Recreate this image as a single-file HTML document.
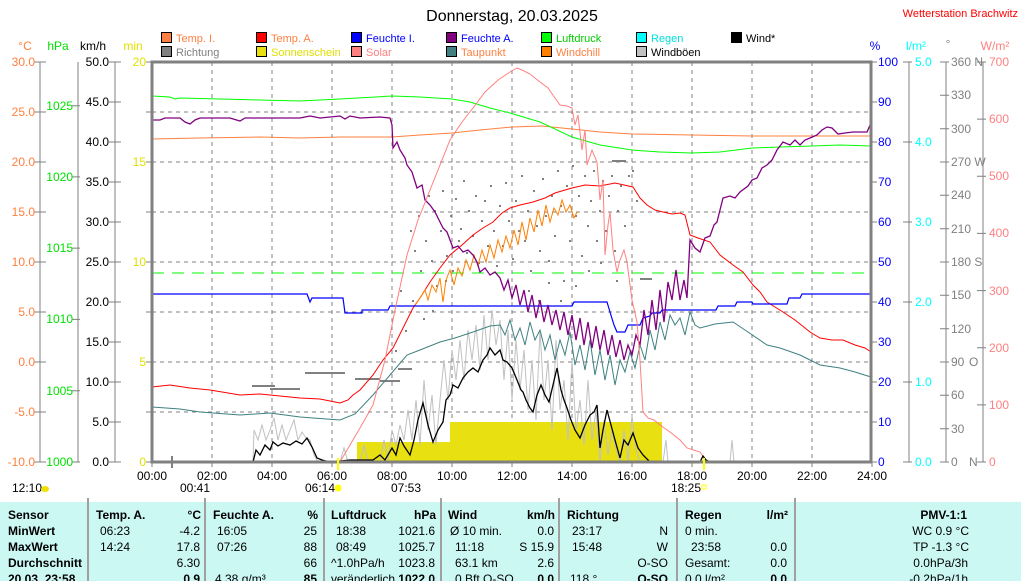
<!DOCTYPE html>
<html><head><meta charset="utf-8"><style>
html,body{margin:0;padding:0;background:#fff;}
svg{display:block;font-family:"Liberation Sans",Arial,sans-serif;}
</style></head><body>
<svg width="1021" height="581" viewBox="0 0 1021 581" xmlns="http://www.w3.org/2000/svg">
<rect x="0" y="0" width="1021" height="581" fill="#fff"/>
<text x="512" y="21" font-size="16" text-anchor="middle" fill="#000">Donnerstag, 20.03.2025</text>
<text x="1018" y="17" font-size="11" text-anchor="end" fill="#ff0000">Wetterstation Brachwitz</text>
<g font-size="11">
<rect x="161.5" y="32.5" width="10" height="10" fill="#ff8040" stroke="#000"/><text x="176" y="42" fill="#ff8040">Temp. I.</text>
<rect x="256.5" y="32.5" width="10" height="10" fill="#ff0000" stroke="#000"/><text x="271" y="42" fill="#ff8040">Temp. A.</text>
<rect x="351.5" y="32.5" width="10" height="10" fill="#0000ff" stroke="#000"/><text x="366" y="42" fill="#0000ff">Feuchte I.</text>
<rect x="446.5" y="32.5" width="10" height="10" fill="#800080" stroke="#000"/><text x="461" y="42" fill="#0000ff">Feuchte A.</text>
<rect x="541.5" y="32.5" width="10" height="10" fill="#00ff00" stroke="#000"/><text x="556" y="42" fill="#00cc00">Luftdruck</text>
<rect x="636.5" y="32.5" width="10" height="10" fill="#00ffff" stroke="#000"/><text x="651" y="42" fill="#00e0e0">Regen</text>
<rect x="731.5" y="32.5" width="10" height="10" fill="#000" stroke="#000"/><text x="746" y="42" fill="#000">Wind*</text>
<rect x="161.5" y="46.5" width="10" height="10" fill="#808080" stroke="#000"/><text x="176" y="56" fill="#808080">Richtung</text>
<rect x="256.5" y="46.5" width="10" height="10" fill="#e8e010" stroke="#000"/><text x="271" y="56" fill="#e0e000">Sonnenschein</text>
<rect x="351.5" y="46.5" width="10" height="10" fill="#ff8080" stroke="#000"/><text x="366" y="56" fill="#ff8080">Solar</text>
<rect x="446.5" y="46.5" width="10" height="10" fill="#408080" stroke="#000"/><text x="461" y="56" fill="#ff8040">Taupunkt</text>
<rect x="541.5" y="46.5" width="10" height="10" fill="#ff8000" stroke="#000"/><text x="556" y="56" fill="#ff8040">Windchill</text>
<rect x="636.5" y="46.5" width="10" height="10" fill="#c0c0c0" stroke="#000"/><text x="651" y="56" fill="#000">Windböen</text>
</g>
<g font-size="12">
<text x="25" y="50" fill="#ff8040" text-anchor="middle">°C</text>
<text x="58" y="50" fill="#00e000" text-anchor="middle">hPa</text>
<text x="93" y="50" fill="#000" text-anchor="middle">km/h</text>
<text x="133" y="50" fill="#e0e000" text-anchor="middle">min</text>
<text x="875" y="50" fill="#0000ff" text-anchor="middle">%</text>
<text x="916" y="50" fill="#00ffff" text-anchor="middle">l/m²</text>
<text x="948" y="48" fill="#808080" text-anchor="middle">°</text>
<text x="995" y="50" fill="#ff8080" text-anchor="middle">W/m²</text>
</g>
<!-- axes -->
<g stroke="#808080" fill="none">
<path d="M40 62V462M34 62H46M34 112H46M34 162H46M34 212H46M34 262H46M34 312H46M34 362H46M34 412H46M34 462H46"/>
<path d="M78 62V462M72 105.7H80M72 176.9H80M72 248.1H80M72 319.4H80M72 390.7H80M72 462H80"/>
<path d="M115 62V462M109 62H121M109 102H121M109 142H121M109 182H121M109 222H121M109 262H121M109 302H121M109 342H121M109 382H121M109 422H121M109 462H121"/>
<path d="M146 62H152M146 112H152M146 162H152M146 212H152M146 262H152M146 312H152M146 362H152M146 412H152M146 462H152"/>
<path d="M871 62H877M871 102H877M871 142H877M871 182H877M871 222H877M871 262H877M871 302H877M871 342H877M871 382H877M871 422H877M871 462H877"/>
<path d="M909 62V462M903 62H912M903 142H912M903 222H912M903 302H912M903 382H912M903 462H912"/>
<path d="M946 62V462M940 62H949M940 95.3H949M940 128.7H949M940 162H949M940 195.3H949M940 228.7H949M940 262H949M940 295.3H949M940 328.7H949M940 362H949M940 395.3H949M940 428.7H949M940 462H949"/>
<path d="M983 62V462M977 62H986M977 119.1H986M977 176.3H986M977 233.4H986M977 290.6H986M977 347.7H986M977 404.9H986M977 462H986"/>
</g>
<g font-size="12" text-anchor="end" fill="#ff8040">
<text x="35" y="66">30.0</text><text x="35" y="116">25.0</text><text x="35" y="166">20.0</text><text x="35" y="216">15.0</text><text x="35" y="266">10.0</text><text x="35" y="316">5.0</text><text x="35" y="366">0.0</text><text x="35" y="416">-5.0</text><text x="35" y="466">-10.0</text>
</g>
<g font-size="12" text-anchor="end" fill="#00e000">
<text x="73" y="110">1025</text><text x="73" y="181">1020</text><text x="73" y="252">1015</text><text x="73" y="323">1010</text><text x="73" y="395">1005</text><text x="73" y="466">1000</text>
</g>
<g font-size="12" text-anchor="end" fill="#000">
<text x="109" y="66">50.0</text><text x="109" y="106">45.0</text><text x="109" y="146">40.0</text><text x="109" y="186">35.0</text><text x="109" y="226">30.0</text><text x="109" y="266">25.0</text><text x="109" y="306">20.0</text><text x="109" y="346">15.0</text><text x="109" y="386">10.0</text><text x="109" y="426">5.0</text><text x="109" y="466">0.0</text>
</g>
<g font-size="12" text-anchor="end" fill="#e0e000">
<text x="146" y="66">20</text><text x="146" y="166">15</text><text x="146" y="266">10</text><text x="146" y="366">5</text><text x="146" y="466">0</text>
</g>
<g font-size="12" fill="#0000ff">
<text x="878" y="66">100</text><text x="878" y="106">90</text><text x="878" y="146">80</text><text x="878" y="186">70</text><text x="878" y="226">60</text><text x="878" y="266">50</text><text x="878" y="306">40</text><text x="878" y="346">30</text><text x="878" y="386">20</text><text x="878" y="426">10</text><text x="878" y="466">0</text>
</g>
<g font-size="12" fill="#00ffff">
<text x="915" y="66">5.0</text><text x="915" y="146">4.0</text><text x="915" y="226">3.0</text><text x="915" y="306">2.0</text><text x="915" y="386">1.0</text><text x="915" y="466">0.0</text>
</g>
<g font-size="12" fill="#808080">
<text x="951" y="66">360 N</text><text x="951" y="99">330</text><text x="951" y="133">300</text><text x="951" y="166">270 W</text><text x="951" y="199">240</text><text x="951" y="233">210</text><text x="951" y="266">180 S</text><text x="951" y="299">150</text><text x="951" y="333">120</text><text x="951" y="366">90</text><text x="969" y="366">O</text><text x="951" y="399">60</text><text x="951" y="433">30</text><text x="951" y="466">0</text><text x="969" y="466">N</text>
</g>
<g font-size="12" fill="#ff8080">
<text x="989" y="66">700</text><text x="989" y="123">600</text><text x="989" y="180">500</text><text x="989" y="237">400</text><text x="989" y="295">300</text><text x="989" y="352">200</text><text x="989" y="409">100</text><text x="989" y="466">0</text>
</g>
<!-- grid -->
<g stroke="#808080" stroke-dasharray="4,4">
<path d="M152 112H871M152 162H871M152 212H871M152 262H871M152 312H871M152 362H871M152 412H871"/>
<path d="M212 62V462M272 62V462M332 62V462M392 62V462M452 62V462M512 62V462M572 62V462M632 62V462M692 62V462M752 62V462M812 62V462"/>
</g>
<!-- data -->
<polygon points="357,462 357,442 450,442 450,422 662,422 662,462" fill="#e8e010"/>
<line x1="152" y1="273" x2="871" y2="273" stroke="#00ff00" stroke-dasharray="12,8"/>
<g fill="#808080">
<rect x="252" y="385" width="23" height="2"/><rect x="270" y="388" width="30" height="2"/><rect x="305" y="372" width="40" height="2"/><rect x="355" y="378" width="25" height="2"/><rect x="380" y="380" width="20" height="2"/><rect x="398" y="368" width="14" height="2"/><rect x="612" y="160" width="14" height="2"/><rect x="640" y="278" width="12" height="2"/>
</g>
<path fill="#808080" d="M410 230h2v2h-2zM414 250h2v2h-2zM418 215h2v2h-2zM420 270h2v2h-2zM425 240h2v2h-2zM428 195h2v2h-2zM431 260h2v2h-2zM434 210h2v2h-2zM436 285h2v2h-2zM440 230h2v2h-2zM442 190h2v2h-2zM446 255h2v2h-2zM450 215h2v2h-2zM452 270h2v2h-2zM455 198h2v2h-2zM458 240h2v2h-2zM460 228h2v2h-2zM463 180h2v2h-2zM466 252h2v2h-2zM468 210h2v2h-2zM472 235h2v2h-2zM475 195h2v2h-2zM478 262h2v2h-2zM481 220h2v2h-2zM484 200h2v2h-2zM487 245h2v2h-2zM490 185h2v2h-2zM493 230h2v2h-2zM496 265h2v2h-2zM499 205h2v2h-2zM502 245h2v2h-2zM505 182h2v2h-2zM508 220h2v2h-2zM512 258h2v2h-2zM515 200h2v2h-2zM518 230h2v2h-2zM521 175h2v2h-2zM524 240h2v2h-2zM527 210h2v2h-2zM530 270h2v2h-2zM533 190h2v2h-2zM536 225h2v2h-2zM539 250h2v2h-2zM542 178h2v2h-2zM545 215h2v2h-2zM548 260h2v2h-2zM551 195h2v2h-2zM554 235h2v2h-2zM557 170h2v2h-2zM560 205h2v2h-2zM563 280h2v2h-2zM566 185h2v2h-2zM569 240h2v2h-2zM572 165h2v2h-2zM575 215h2v2h-2zM578 195h2v2h-2zM581 255h2v2h-2zM584 175h2v2h-2zM587 225h2v2h-2zM590 200h2v2h-2zM593 170h2v2h-2zM596 240h2v2h-2zM599 210h2v2h-2zM602 180h2v2h-2zM605 230h2v2h-2zM608 195h2v2h-2zM611 175h2v2h-2zM614 250h2v2h-2zM617 210h2v2h-2zM620 185h2v2h-2zM624 225h2v2h-2zM628 175h2v2h-2zM632 170h2v2h-2zM636 200h2v2h-2zM400 290h2v2h-2zM405 330h2v2h-2zM395 350h2v2h-2zM412 300h2v2h-2zM423 318h2v2h-2zM432 310h2v2h-2zM445 280h2v2h-2zM528 290h2v2h-2zM538 300h2v2h-2zM548 282h2v2h-2zM560 300h2v2h-2zM575 285h2v2h-2zM588 270h2v2h-2zM600 262h2v2h-2zM616 280h2v2h-2z"/>
<polyline fill="none" stroke="#c0c0c0" points="253,462 254,430 258,440 262,425 266,440 270,430 274,418 278,440 282,425 286,440 290,430 294,420 298,440 302,432 306,438 310,440 314,455 318,462 340,462 344,448 348,462 360,462 364,445 368,462 380,462 384,440 388,460 392,430 396,445 400,425 404,440 408,410 412,440 416,400 420,445 424,380 428,430 432,395 436,445 440,400 444,360 448,400 452,350 456,380 460,340 464,380 468,330 472,360 476,325 480,370 484,315 488,360 492,310 496,345 500,320 504,380 508,330 512,400 516,340 520,390 524,350 528,410 532,360 536,420 540,330 544,400 548,360 552,430 556,340 560,410 564,380 568,440 572,360 576,430 580,400 584,445 588,380 592,440 596,410 600,462 604,420 608,455 612,430 616,450 620,462 624,430 628,462 632,415 636,450 640,462 663,462 666,440 668,462 730,462 732,440 734,462"/>
<polyline fill="none" stroke="#ff8040" points="152,139 200,138 260,137 300,138 340,137 392,137 420,135 452,133 480,130 512,127 542,126 572,129 600,132 632,134 692,135 752,136 871,136"/>
<polyline fill="none" stroke="#00ff00" points="152,96 170,97 175,99 180,98 220,99 260,100 300,101 340,99 392,96 420,97 452,99 470,102 490,108 510,113 540,122 572,137 600,145 632,150 660,152 692,153 720,152 752,148 780,147 812,146 840,145 871,146"/>
<polyline fill="none" stroke="#408080" points="152,407 180,409 200,412 240,415 270,413 300,417 340,420 355,414 373,395 390,375 407,355 420,350 440,342 455,338 473,332 490,326 500,325 505,335 510,320 515,340 520,328 525,345 530,322 535,340 540,330 545,350 550,335 555,360 560,340 565,355 570,332 575,365 580,345 585,370 590,340 595,375 600,350 605,380 610,355 615,385 620,360 625,372 630,352 635,368 640,345 645,360 650,330 655,350 660,322 665,340 670,315 675,325 680,318 685,335 690,312 695,325 700,328 715,324 733,322 745,330 767,345 780,348 800,355 820,365 840,368 855,372 871,377"/>
<polyline fill="none" stroke="#ff0000" points="152,387 170,385 190,388 210,390 240,395 260,394 280,396 300,398 320,399 340,403 348,400 353,395 360,390 373,375 383,360 393,348 403,328 413,308 420,298 430,282 440,268 450,255 462,245 473,235 483,228 493,222 502,213 510,208 520,205 533,202 545,198 555,193 565,190 572,188 585,185 600,186 615,183 633,187 640,198 647,205 655,210 663,212 672,214 680,213 685,215 690,235 698,238 710,242 720,255 733,265 743,272 753,285 760,292 767,302 775,307 783,312 795,320 810,332 820,338 832,340 843,340 855,345 865,348 871,352"/>
<polyline fill="none" stroke="#ff8000" points="415,305 420,298 425,290 428,300 432,285 436,292 440,278 443,302 446,280 450,270 454,285 458,268 462,276 466,260 470,270 474,255 478,266 482,250 486,262 490,245 494,258 498,240 502,252 506,236 510,248 514,230 518,245 522,222 526,240 530,218 534,232 538,210 542,226 546,205 550,222 554,208 558,215 562,200 566,212 570,205 574,218 577,212"/>
<polyline fill="none" stroke="#0000ff" stroke-width="1.2" points="152,294 307,294 310,302 312,298 343,298 345,313 362,313 362,310 388,310 390,306 572,306 574,302 607,302 610,312 614,325 617,332 625,332 628,325 640,325 643,318 650,316 652,313 660,313 662,310 716,310 718,306 735,306 737,302 752,302 753,304 787,304 789,298 800,298 802,294 871,294"/>
<polyline fill="none" stroke="#800080" stroke-width="1.3" points="152,120 160,120 165,118 180,118 185,122 190,124 195,120 200,118 230,118 240,121 245,118 300,118 310,116 320,118 340,116 345,119 350,116 360,118 380,117 390,118 392,125 393,148 397,142 400,150 405,158 407,165 412,172 417,188 422,185 425,200 430,205 435,212 440,222 443,228 447,232 450,240 453,248 458,246 463,252 468,250 473,255 477,262 480,272 485,268 490,275 495,272 500,278 504,290 508,280 512,298 516,285 520,305 524,290 528,312 532,295 536,318 540,300 544,322 548,305 552,325 556,310 560,330 564,312 568,335 572,315 576,340 580,318 584,345 588,322 592,348 596,326 600,350 604,330 608,355 612,335 616,357 620,340 624,360 628,345 632,355 636,335 640,345 644,310 648,335 652,300 656,330 660,290 664,322 668,282 672,300 676,270 680,300 684,280 687,298 690,240 695,248 700,252 705,238 710,236 714,225 717,222 720,210 723,198 730,196 735,198 740,192 748,186 752,180 757,178 762,168 767,165 772,160 777,150 783,142 790,145 795,140 800,145 805,140 810,138 817,135 822,130 827,127 832,128 838,134 845,133 853,132 860,132 867,132 871,123"/>
<polyline fill="none" stroke="#ff8080" points="340,462 350,445 360,428 373,405 385,360 395,310 407,255 418,220 430,190 440,165 450,140 462,122 473,108 485,92 498,80 510,72 517,68 522,70 530,74 540,82 548,88 555,98 560,105 567,106 572,108 575,125 578,115 582,150 585,130 587,165 592,150 597,162 600,200 603,180 605,255 608,225 610,212 613,250 617,272 620,260 624,250 627,262 632,300 637,322 640,360 643,412 648,418 654,420 660,425 670,432 680,440 687,448 700,452 707,462"/>
<polyline fill="none" stroke="#000" stroke-width="1.3" points="253,462 256,450 260,455 265,445 270,450 273,442 278,446 283,443 290,445 296,441 302,444 307,438 312,447 317,458 322,460 330,462 350,460 373,460 380,455 385,460 392,448 396,455 400,438 404,446 410,455 414,440 418,420 423,403 428,425 433,442 438,430 443,422 446,400 450,395 453,385 458,388 463,378 468,372 473,368 478,372 483,360 487,355 490,348 495,355 500,350 503,360 507,362 512,368 517,380 521,390 523,392 526,400 530,408 533,412 537,395 541,385 545,395 549,402 553,385 557,368 561,390 564,400 567,408 571,420 575,430 580,438 585,425 590,415 594,412 597,405 600,448 603,430 607,410 611,425 615,440 620,458 624,440 628,445 633,433 638,448 643,455 650,462 700,462 703,456 706,460 710,462"/>
<rect x="152" y="62" width="719" height="400" fill="none" stroke="#808080" stroke-width="3"/>
<path d="M152 462V467M212 462V467M272 462V467M332 462V467M392 462V467M452 462V467M512 462V467M572 462V467M632 462V467M692 462V467M752 462V467M812 462V467M872 462V467" stroke="#808080"/>
<g font-size="12" fill="#000" text-anchor="middle">
<text x="152" y="480">00:00</text><text x="212" y="480">02:00</text><text x="272" y="480">04:00</text><text x="332" y="480">06:00</text><text x="392" y="480">08:00</text><text x="452" y="480">10:00</text><text x="512" y="480">12:00</text><text x="572" y="480">14:00</text><text x="632" y="480">16:00</text><text x="692" y="480">18:00</text><text x="752" y="480">20:00</text><text x="812" y="480">22:00</text><text x="872" y="480">24:00</text>
</g>
<g font-size="12" fill="#000">
<text x="12" y="492">12:10</text><ellipse cx="45" cy="489" rx="4" ry="3" fill="#f0e000"/>
<text x="180" y="492">00:41</text>
<text x="305" y="492">06:14</text><circle cx="338" cy="488" r="3.5" fill="#ffff00"/>
<text x="391" y="492">07:53</text>
<text x="671" y="492">18:25</text><rect x="702" y="485" width="4" height="4" fill="none" stroke="#ffff00"/>
<line x1="172" y1="456" x2="172" y2="468" stroke="#808080" stroke-width="2"/>
<line x1="338" y1="458" x2="338" y2="470" stroke="#ffff00" stroke-width="2"/>
<line x1="704" y1="458" x2="704" y2="470" stroke="#ffff00" stroke-width="2"/>
</g>
<rect x="0" y="502" width="1021" height="79" fill="#ccf8f4"/>
<g stroke="#a0a0a0" stroke-width="2">
<line x1="88" y1="498" x2="88" y2="581"/><line x1="205" y1="498" x2="205" y2="581"/><line x1="324" y1="498" x2="324" y2="581"/><line x1="441" y1="498" x2="441" y2="581"/><line x1="559" y1="498" x2="559" y2="581"/><line x1="677" y1="498" x2="677" y2="581"/><line x1="795" y1="498" x2="795" y2="581"/>
</g>
<g font-size="12" fill="#000">
<g font-weight="bold">
<text x="8" y="519">Sensor</text><text x="8" y="535">MinWert</text><text x="8" y="551">MaxWert</text><text x="8" y="567">Durchschnitt</text><text x="8" y="583">20.03. 23:58</text>
<text x="96" y="519">Temp. A.</text><text x="201" y="519" text-anchor="end">°C</text>
<text x="213" y="519">Feuchte A.</text><text x="318" y="519" text-anchor="end">%</text>
<text x="331" y="519">Luftdruck</text><text x="436" y="519" text-anchor="end">hPa</text>
<text x="448" y="519">Wind</text><text x="555" y="519" text-anchor="end">km/h</text>
<text x="567" y="519">Richtung</text>
<text x="685" y="519">Regen</text><text x="788" y="519" text-anchor="end">l/m²</text>
<text x="967" y="519" text-anchor="end">PMV-1:1</text>
<text x="200" y="583" text-anchor="end">0.9</text><text x="317" y="583" text-anchor="end">85</text><text x="435" y="583" text-anchor="end">1022.0</text><text x="554" y="583" text-anchor="end">0.0</text><text x="668" y="583" text-anchor="end">O-SO</text><text x="787" y="583" text-anchor="end">0.0</text>
</g>
<text x="100" y="535">06:23</text><text x="100" y="551">14:24</text>
<text x="200" y="535" text-anchor="end">-4.2</text><text x="200" y="551" text-anchor="end">17.8</text><text x="200" y="567" text-anchor="end">6.30</text>
<text x="217" y="535">16:05</text><text x="217" y="551">07:26</text><text x="215" y="583">4.38 g/m³</text>
<text x="317" y="535" text-anchor="end">25</text><text x="317" y="551" text-anchor="end">88</text><text x="317" y="567" text-anchor="end">66</text>
<text x="336" y="535">18:38</text><text x="336" y="551">08:49</text><text x="331" y="567">^1.0hPa/h</text><text x="331" y="583" textLength="64">veränderlich</text>
<text x="435" y="535" text-anchor="end">1021.6</text><text x="435" y="551" text-anchor="end">1025.7</text><text x="435" y="567" text-anchor="end">1023.8</text>
<text x="450" y="535">Ø 10 min.</text><text x="455" y="551">11:18</text><text x="455" y="567">63.1 km</text><text x="455" y="583">0.Bft O-SO</text>
<text x="554" y="535" text-anchor="end">0.0</text><text x="554" y="551" text-anchor="end">S 15.9</text><text x="554" y="567" text-anchor="end">2.6</text>
<text x="572" y="535">23:17</text><text x="572" y="551">15:48</text><text x="570" y="583">118 °</text>
<text x="668" y="535" text-anchor="end">N</text><text x="668" y="551" text-anchor="end">W</text><text x="668" y="567" text-anchor="end">O-SO</text>
<text x="685" y="535">0 min.</text><text x="691" y="551">23:58</text><text x="685" y="567">Gesamt:</text><text x="685" y="583">0.0 l/m²</text>
<text x="787" y="551" text-anchor="end">0.0</text><text x="787" y="567" text-anchor="end">0.0</text>
<text x="969" y="535" text-anchor="end">WC 0.9 °C</text><text x="969" y="551" text-anchor="end">TP -1.3 °C</text><text x="968" y="567" text-anchor="end">0.0hPa/3h</text><text x="968" y="583" text-anchor="end">-0.2hPa/1h</text>
</g>
</svg>
</body></html>
